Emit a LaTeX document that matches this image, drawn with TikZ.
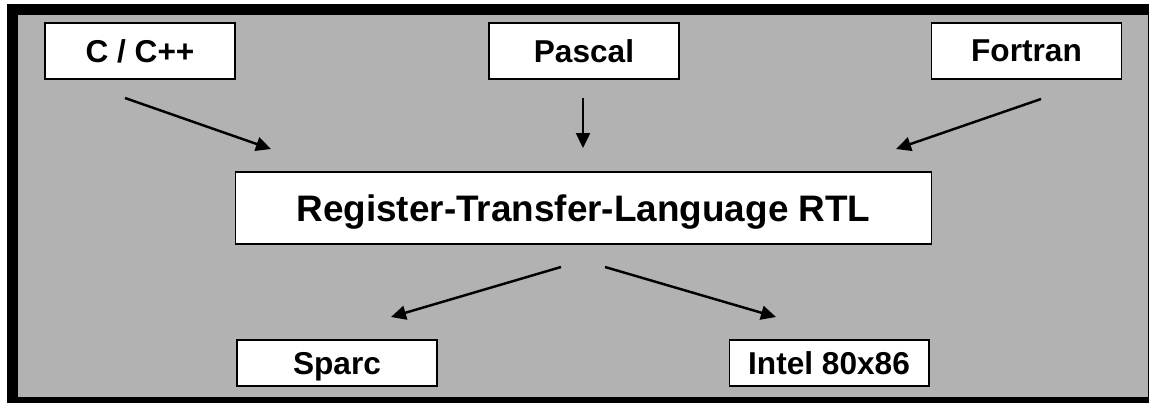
\documentclass[tikz,border=0pt]{standalone}
\usepackage{fontspec}
\setmainfont{Liberation Sans}
\usetikzlibrary{arrows.meta}

\begin{document}
\begin{tikzpicture}[
    x=0.02cm, y=-0.02cm,
    every node/.style={font=\bfseries\fontsize{18}{20}\selectfont},
    box/.style={
        rectangle,
        draw=black,
        fill=white,
        inner sep=0pt,
        text depth=0pt,
        align=center,
        line width=0.6pt
    },
    lang/.style={box, minimum width=3.8cm, minimum height=1.12cm},
    target/.style={box, minimum width=4cm, minimum height=0.92cm},
    arrow/.style={
        -{Triangle[length=0.3cm, width=0.28cm]},
        line width=1.4pt,
        color=black
    }
]

% ==================== FRAME ====================
\useasboundingbox (0,0) rectangle (1149,403);
\fill[white] (0,0) rectangle (1149,403);
\fill[black] (7,4) rectangle (1149,403);
\fill[black!30] (18,15) rectangle (1147.5,397);

% ==================== SOURCE LANGUAGES ====================
\node[lang] (cpp) at (140,51) {C / C++};
\node[lang] (pascal) at (584,51) {Pascal};
\node[lang] (fortran) at (1026.5,51) {Fortran};

% ==================== INTERMEDIATE ====================
\node[box, minimum width=13.94cm, minimum height=1.44cm,
      font=\bfseries\fontsize{21}{24}\selectfont] (rtl) at (583.5,208)
      {Register-Transfer-Language RTL};

% ==================== TARGETS ====================
\node[target] (sparc) at (337,363) {Sparc};
\node[target] (intel) at (829,363) {Intel 80x86};

% Arrow ends
\coordinate (cpp-out) at (125,98);
\coordinate (cpp-in) at (271,149);
\coordinate (pascal-out) at (583,98);
\coordinate (pascal-in) at (583,148);
\coordinate (fortran-out) at (1041,99);
\coordinate (fortran-in) at (896,149);
\coordinate (sparc-out) at (561,267);
\coordinate (sparc-in) at (391,317);
\coordinate (intel-out) at (605,267);
\coordinate (intel-in) at (776,317);

% Connections
\draw[arrow] (cpp-out) -- (cpp-in);
\draw[arrow] (pascal-out) -- (pascal-in);
\draw[arrow] (fortran-out) -- (fortran-in);
\draw[arrow] (sparc-out) -- (sparc-in);
\draw[arrow] (intel-out) -- (intel-in);

\end{tikzpicture}
\end{document}
